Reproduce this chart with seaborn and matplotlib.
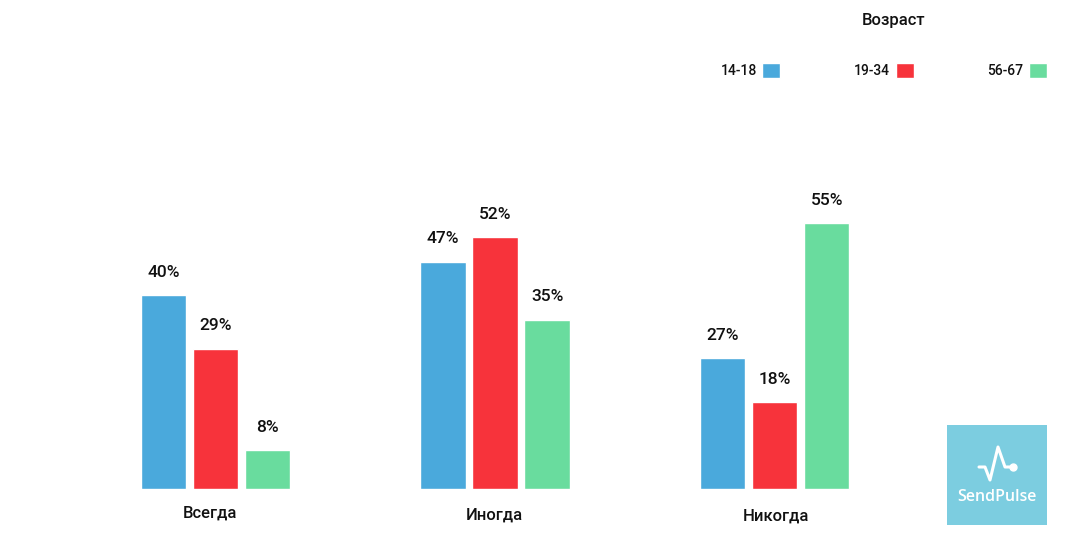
# Bar chart: how often each age group does it, SendPulse style

import pandas as pd
import matplotlib
matplotlib.use("Agg")
import matplotlib.pyplot as plt
import matplotlib.transforms as mtrans
import seaborn as sns

categories = ['Всегда', 'Иногда', 'Никогда']
ages = ['14-18', '19-34', '56-67']
values_14_18 = [40, 47, 27]
values_19_34 = [29, 52, 18]
values_56_67 = [8, 35, 55]
colors = ['#4aa9dc', '#f7333b', '#69dc9e']

df = pd.DataFrame({
    'category': categories * 3,
    'age': [ages[0]] * 3 + [ages[1]] * 3 + [ages[2]] * 3,
    'value': values_14_18 + values_19_34 + values_56_67,
})

sns.set_theme(style='white')
plt.rcParams['font.family'] = ['Roboto', 'DejaVu Sans']

W, H = 1067, 545
fig = plt.figure(figsize=(W / 100, H / 100), dpi=100)
ax = fig.add_axes([0, (H - 489) / H, 1, 489 / H])

sns.barplot(data=df, x='category', y='value', hue='age', hue_order=ages,
            palette=colors, saturation=1, width=0.56, gap=0.13, ax=ax)

# one category step is about 279.5 px, first group is centred at 215.5 px
ax.set_xlim(-215.5 / 279.5, (W - 215.5) / 279.5)
ax.set_ylim(0, 489 / 4.84)
ax.set_xlabel('')
ax.set_ylabel('')
ax.set_yticks([])
sns.despine(ax=ax, left=True, bottom=True, top=True, right=True)
ax.patch.set_alpha(0)

for cont in ax.containers:
    ax.bar_label(cont, fmt='%d%%', padding=11, fontsize=12.5, fontweight='medium', color='#111111')

ax.tick_params(axis='x', length=0, pad=12)
shifts = [(-6, 0), (-1, -2), (1, -3)]
for lab, (dx, dy) in zip(ax.get_xticklabels(), shifts):
    lab.set_fontsize(12)
    lab.set_fontweight('medium')
    lab.set_color('#111111')
    lab.set_transform(lab.get_transform() + mtrans.ScaledTranslation(dx / 100, dy / 100, fig.dpi_scale_trans))

sns.move_legend(ax, 'upper right', bbox_to_anchor=(1047 / W, 1 - 13 / 489), ncols=3, title='Возраст',
                frameon=False, markerfirst=False, borderaxespad=0, borderpad=0,
                handlelength=1.3, handleheight=1.3, handletextpad=0.4, columnspacing=5.3,
                labelspacing=0, prop={'size': 10, 'weight': 'medium'},
                title_fontproperties={'size': 12, 'weight': 'medium'})
leg = ax.get_legend()
leg.get_title().set_color('#111111')
leg.get_title().set_position((10, 0))
leg._legend_box.sep = 25
for t in leg.get_texts():
    t.set_color('#111111')

# SendPulse logo
logo = fig.add_axes([947 / W, (H - 525) / H, 100 / W, 100 / H], facecolor='#7ccde0')
logo.set_xlim(0, 100)
logo.set_ylim(0, 100)
logo.set_xticks([])
logo.set_yticks([])
for s in logo.spines.values():
    s.set_visible(False)
logo.plot([32, 38, 43, 51, 58, 66], [58, 58, 45, 78, 58, 58], color='white', lw=2.2,
          solid_joinstyle='round', solid_capstyle='round')
logo.plot([66], [58], 'o', color='white', ms=5)
logo.text(50, 28, 'SendPulse', color='white', ha='center', va='center', fontsize=11.5,
          fontweight='semibold', family=['Open Sans', 'DejaVu Sans'])

fig.savefig('out.png', dpi=100)
